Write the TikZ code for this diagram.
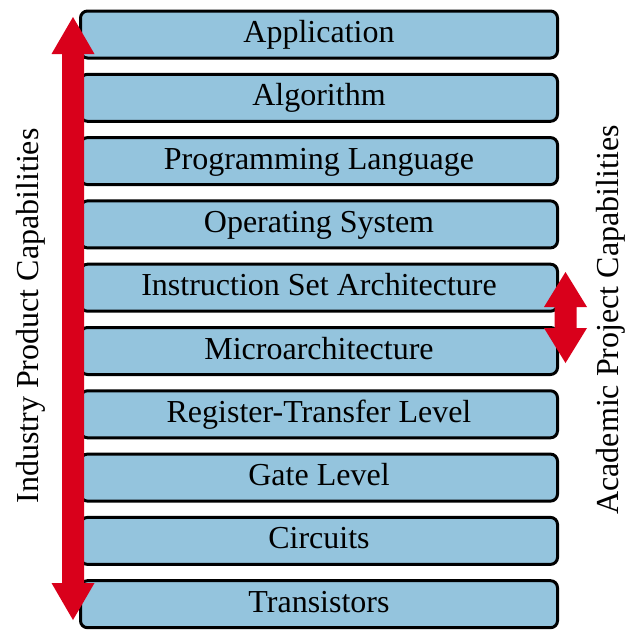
\documentclass[tikz,border=0pt]{standalone}
\usepackage{fontspec}
\setmainfont{Liberation Serif}
\definecolor{boxblue}{RGB}{148,196,221}
\definecolor{arrred}{RGB}{217,0,27}
\begin{document}
\begin{tikzpicture}[x=1pt,y=-1pt,
  layerbox/.style={draw=black, line width=3pt, fill=boxblue, rounded corners=7pt,
    minimum width=477pt, minimum height=47pt, inner sep=0pt,
    font=\fontsize{32}{36}\selectfont, text height=21pt, text depth=5pt},
  sidelabel/.style={rotate=90, anchor=base, inner sep=0pt, font=\fontsize{32}{36}\selectfont},
  bigarrow/.style={fill=arrred, draw=none}]
\useasboundingbox (0,0) rectangle (625,630);
\foreach \t [count=\i from 0] in {Application,Algorithm,Programming Language,Operating System,Instruction Set Architecture,Microarchitecture,Register-Transfer Level,Gate Level,Circuits,Transistors}{
  \node[layerbox] (L\i) at (319,{34.5+63.3*\i}) {\t};
}
% industry arrow
\fill[bigarrow] (73,17) -- (94.5,54) -- (84,54) -- (84,583) -- (94.5,583) -- (73,620)
  -- (51.5,583) -- (62,583) -- (62,54) -- (51.5,54) -- cycle;
% academic arrow
\fill[bigarrow] (565.5,272) -- (587,307) -- (576.5,307) -- (576.5,328) -- (587,328) -- (565.5,363)
  -- (544,328) -- (554.5,328) -- (554.5,307) -- (544,307) -- cycle;
\node[sidelabel] (ind) at (38,316) {Industry Product Capabilities};
\node[sidelabel] (acad) at (618,320) {Academic Project Capabilities};
\end{tikzpicture}
\end{document}
